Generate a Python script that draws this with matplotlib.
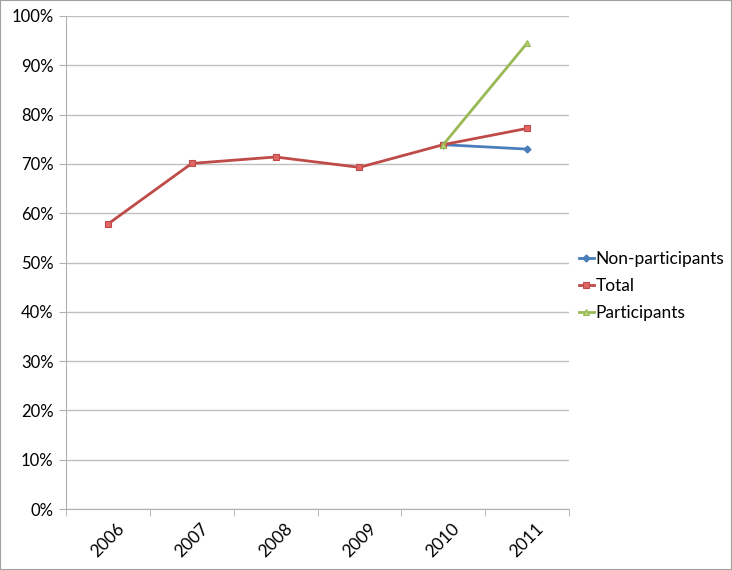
import matplotlib
matplotlib.use("Agg")
import matplotlib.pyplot as plt
import numpy as np

years = ["2006", "2007", "2008", "2009", "2010", "2011"]
total = [57.8, 70.1, 71.4, 69.3, 73.9, 77.2]
non_participants = [None, None, None, None, 73.9, 73.0]
participants = [None, None, None, None, 73.9, 94.5]

plt.rcParams['font.family'] = ['Lato', 'DejaVu Sans']

fig = plt.figure(figsize=(7.32, 5.70), dpi=100)
ax = fig.add_axes([66/732, 61/570, 503/732, 493/570])

x = np.arange(len(years))
def arr(v):
    return np.array([np.nan if a is None else a for a in v], dtype=float)

ax.plot(x, arr(non_participants), color="#4a7ebb", lw=2, marker="D", ms=3.5,
        markerfacecolor="#4a7ebb", markeredgecolor="#4a7ebb", label="Non-participants", zorder=3)
ax.plot(x, arr(total), color="#be4b48", lw=2, marker="s", ms=4.5,
        markerfacecolor="#e06666", markeredgecolor="#be4b48", markeredgewidth=0.8, label="Total", zorder=4)
ax.plot(x, arr(participants), color="#98b954", lw=2, marker="^", ms=4.5,
        markerfacecolor="#b3d27a", markeredgecolor="#98b954", markeredgewidth=0.8, label="Participants", zorder=5)

ax.set_xlim(-0.5, len(years) - 0.5)
ax.set_ylim(0, 100)
ax.set_yticks(np.arange(0, 101, 10))
ax.set_yticklabels([f"{v}%" for v in range(0, 101, 10)], fontsize=12)
ax.yaxis.grid(True, color="#c0c0c0", lw=1)
ax.set_axisbelow(True)

ax.set_xticks(x)
ax.set_xticklabels(years, rotation=45, fontsize=12.5, ha="center", va="top")
ax.tick_params(axis="x", length=0, pad=8)
ax.set_xticks(np.arange(-0.5, len(years), 1), minor=True)
ax.tick_params(axis="x", which="minor", length=5, color="#b0b0b0", direction="out")
ax.tick_params(axis="y", length=5, color="#b0b0b0", direction="out", pad=4)

for s in ["top", "right"]:
    ax.spines[s].set_visible(False)
for s in ["left", "bottom"]:
    ax.spines[s].set_color("#b0b0b0")

leg = ax.legend(loc="center left", bbox_to_anchor=(1.012, 0.452), frameon=False,
                fontsize=12.5, handlelength=0.9, handletextpad=0.1, labelspacing=0.65,
                borderaxespad=0.0, borderpad=0.2)

fig.patches.append(plt.Rectangle((0, 0), 1, 1, transform=fig.transFigure,
                                 fill=False, edgecolor="#a0a0a0", lw=1.5))

fig.savefig("out.png", dpi=100)
